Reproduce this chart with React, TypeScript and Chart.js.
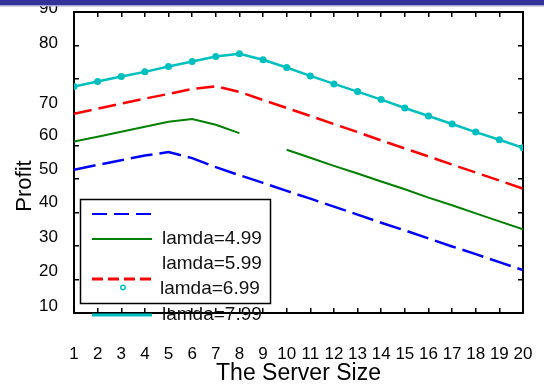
import React, { useEffect, useRef } from 'react';
import { Chart, registerables } from 'chart.js';

Chart.register(...registerables);

// ---- data ----
const serverSizes = [1, 2, 3, 4, 5, 6, 7, 8, 9, 10, 11, 12, 13, 14, 15, 16, 17, 18, 19, 20];
const profitLamda499 = [42.8, 44.3, 45.7, 47.1, 48.1, 46.3, 43.6, 41.2, 38.9, 36.5, 34.2, 31.8, 29.4, 27.0, 24.7, 22.3, 19.9, 17.6, 15.2, 12.8];
const profitLamda599 = [51.3, 52.7, 54.2, 55.7, 57.2, 58.0, 56.3, 53.8, null, 48.8, 46.4, 44.0, 41.7, 39.3, 37.0, 34.5, 32.2, 29.8, 27.4, 25.0];
const profitLamda699 = [59.6, 61.1, 62.6, 64.1, 65.5, 67.0, 67.8, 66.1, 63.7, 61.3, 58.9, 56.5, 54.1, 51.6, 49.2, 46.8, 44.4, 42.0, 39.6, 37.2];
const profitLamda799 = [67.7, 69.2, 70.7, 72.1, 73.7, 75.2, 76.7, 77.5, 75.7, 73.4, 70.9, 68.5, 66.2, 63.8, 61.3, 58.9, 56.5, 54.1, 51.8, 49.4];
const seriesLabels = ['lamda=4.99', 'lamda=5.99', 'lamda=6.99', 'lamda=7.99'];
const yTickLabels = ['10', '20', '30', '40', '50', '60', '70', '80', '90'];
// where (in axis units) each y tick label sits in the reference (they are shifted off their ticks)
const yTickLabelAt = [2.1, 12.6, 22.7, 33.2, 43.1, 53.2, 62.8, 80.7, 91.2];
const xTitle = 'The Server Size';
const yTitle = 'Profit';

const FONT = '"Liberation Sans", Arial, Helvetica, sans-serif';

const toPoints = (vals: (number | null)[]) => serverSizes.map((x, i) => ({ x, y: vals[i] }));

const overlayPlugin = {
  id: 'overlay',
  afterDraw(chart: any) {
    const ctx = chart.ctx as CanvasRenderingContext2D;
    const ds = chart.data.datasets;
    ctx.save();
    // legend box
    ctx.fillStyle = '#ffffff';
    ctx.fillRect(80, 199, 190, 104);
    ctx.strokeStyle = '#000';
    ctx.lineWidth = 1.5;
    ctx.setLineDash([]);
    ctx.strokeRect(80.5, 199.5, 190, 104);
    // samples
    const sampleY = [214, 239, 279, 315];
    const sampleDash = [[15, 7], [], [11, 5], []];
    const sampleW = [2, 2, 3, 3];
    ds.forEach((d: any, i: number) => {
      ctx.beginPath();
      ctx.setLineDash(sampleDash[i]);
      ctx.strokeStyle = d.borderColor;
      ctx.lineWidth = sampleW[i];
      ctx.moveTo(92, sampleY[i]);
      ctx.lineTo(152, sampleY[i]);
      ctx.stroke();
    });
    ctx.setLineDash([]);
    ctx.beginPath();
    ctx.arc(123, 287.5, 2.2, 0, Math.PI * 2);
    ctx.strokeStyle = ds[3].borderColor;
    ctx.lineWidth = 1.5;
    ctx.stroke();
    // legend texts
    ctx.font = `19px ${FONT}`;
    ctx.fillStyle = '#111';
    ctx.textBaseline = 'middle';
    ctx.textAlign = 'left';
    const textY = [238.5, 263.5, 289, 315];
    const textX = [162, 162, 160, 162];
    ds.forEach((d: any, i: number) => ctx.fillText(d.label, textX[i], textY[i]));
    // y title
    ctx.save();
    ctx.translate(25, 186);
    ctx.rotate(-Math.PI / 2);
    ctx.font = `22px ${FONT}`;
    ctx.fillStyle = '#000';
    ctx.textAlign = 'center';
    ctx.textBaseline = 'middle';
    ctx.fillText(yTitle, 0, 0);
    ctx.restore();
    // top band
    ctx.fillStyle = '#333399';
    ctx.fillRect(0, 0, chart.width, 5);
    ctx.fillStyle = '#a6a6d2';
    ctx.fillRect(0, 5, chart.width, 1.5);
    ctx.restore();
  },
};

export default function App() {
  const ref = useRef<HTMLCanvasElement>(null);
  useEffect(() => {
    if (!ref.current) return;
    Chart.defaults.font.family = FONT;
    Chart.defaults.color = '#000';
    const chart = new Chart(ref.current, {
      type: 'line',
      data: {
        datasets: [
          {
            label: seriesLabels[0],
            data: toPoints(profitLamda499),
            borderColor: '#0000ff',
            borderWidth: 2.5,
            borderDash: [22, 7],
            pointRadius: 0,
          },
          {
            label: seriesLabels[1],
            data: toPoints(profitLamda599),
            borderColor: '#008000',
            borderWidth: 2,
            pointRadius: 0,
            spanGaps: false,
          },
          {
            label: seriesLabels[2],
            data: toPoints(profitLamda699),
            borderColor: '#ff0000',
            borderWidth: 2.5,
            borderDash: [18, 7],
            pointRadius: 0,
          },
          {
            label: seriesLabels[3],
            data: toPoints(profitLamda799),
            borderColor: '#00bfbf',
            backgroundColor: '#00bfbf',
            borderWidth: 2.5,
            pointRadius: 3.5,
            pointBackgroundColor: '#00bfbf',
            pointBorderWidth: 0,
          },
        ] as any,
      },
      options: {
        responsive: false,
        animation: false,
        layout: { padding: { top: 12, right: 21, bottom: 0, left: 0 } },
        plugins: { legend: { display: false }, tooltip: { enabled: false } },
        elements: { line: { tension: 0 } },
        scales: {
          x: {
            type: 'linear',
            position: 'bottom',
            min: 1,
            max: 20,
            afterFit: (s: any) => {
              s.height = 74;
              s.paddingLeft = 0;
              s.paddingRight = 0;
            },
            ticks: { stepSize: 1, autoSkip: false, maxRotation: 0, padding: 36, font: { size: 17 }, color: '#000' },
            grid: { drawOnChartArea: false, drawTicks: true, tickLength: -5, color: '#000', lineWidth: 1.5 },
            border: { display: true, color: '#000', width: 2 },
            title: { display: true, text: xTitle, font: { size: 23 }, color: '#000', padding: 0 },
          },
          x2: {
            type: 'linear',
            position: 'top',
            min: 1,
            max: 20,
            afterFit: (s: any) => {
              s.height = 0;
            },
            ticks: { stepSize: 1, display: false },
            grid: { drawOnChartArea: false, drawTicks: true, tickLength: -5, color: '#000', lineWidth: 1.5 },
            border: { display: true, color: '#000', width: 2 },
          },
          y: {
            type: 'linear',
            position: 'left',
            min: 0,
            max: 90,
            weight: 0,
            afterFit: (s: any) => {
              s.width = 0;
            },
            ticks: { stepSize: 10, display: false },
            grid: { drawOnChartArea: false, drawTicks: true, tickLength: -5, color: '#000', lineWidth: 1.5 },
            border: { display: true, color: '#000', width: 2 },
          },
          yl: {
            type: 'linear',
            position: 'left',
            min: 0,
            max: 90,
            weight: 1,
            afterFit: (s: any) => {
              s.width = 74;
              s.paddingTop = 0;
              s.paddingBottom = 0;
            },
            afterBuildTicks: (s: any) => {
              s.ticks = yTickLabelAt.map((v) => ({ value: v }));
            },
            ticks: {
              autoSkip: false,
              padding: 8,
              font: { size: 17 },
              color: '#000',
              callback: (_v: any, i: number) => yTickLabels[i],
            },
            grid: { display: false },
            border: { display: false },
          },
          y2: {
            type: 'linear',
            position: 'right',
            min: 0,
            max: 90,
            afterFit: (s: any) => {
              s.width = 0;
            },
            ticks: { stepSize: 10, display: false },
            grid: { drawOnChartArea: false, drawTicks: true, tickLength: -5, color: '#000', lineWidth: 1.5 },
            border: { display: true, color: '#000', width: 2 },
          },
        },
      } as any,
      plugins: [overlayPlugin],
    });
    return () => chart.destroy();
  }, []);
  return (
    <div style={{ position: 'absolute', left: 0, top: 0, width: 544, height: 387, background: '#fff' }}>
      <canvas ref={ref} width={544} height={387} style={{ display: 'block' }} />
    </div>
  );
}
